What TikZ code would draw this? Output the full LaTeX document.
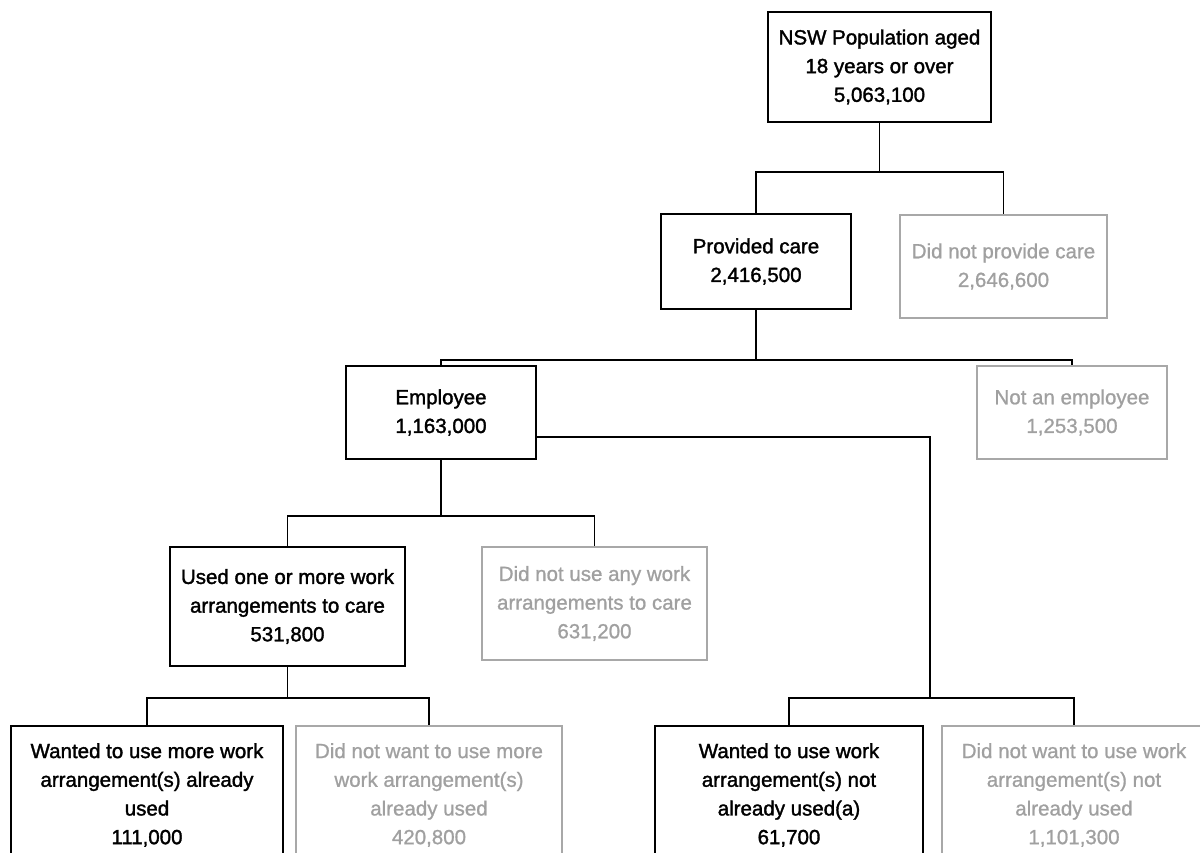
\documentclass[tikz,border=0pt]{standalone}
\usepackage{fontspec}
\setmainfont{Liberation Sans}
\newfontfamily\medfont[FakeBold=1.6]{Liberation Sans}
\newfontfamily\regfont[FakeBold=0.9]{Liberation Sans}
\definecolor{boxgray}{RGB}{168,168,168}
\definecolor{txtgray}{RGB}{160,160,160}
\begin{document}
\begin{tikzpicture}[x=1pt,y=-1pt,
  blackbox/.style={draw=black,line width=2pt,inner sep=0pt,align=center,
    font=\medfont\fontsize{20.5}{28.7}\selectfont,text=black},
  graybox/.style={draw=boxgray,line width=2pt,inner sep=0pt,align=center,
    font=\regfont\fontsize{20.5}{28.7}\selectfont,text=txtgray},
  conn/.style={draw=black,line width=1.6pt}]
\useasboundingbox (0,0) rectangle (1200,853);
\clip (0,0) rectangle (1200,853);
\fill[white] (0,0) rectangle (1200,853);

\node[blackbox,minimum width=223pt,minimum height=110pt] (top) at (879.5,67)
  {NSW Population aged\\18 years or over\\5,063,100};
\node[blackbox,minimum width=190pt,minimum height=95pt] (pc) at (756,261.5)
  {Provided care\\2,416,500};
\node[graybox,minimum width=207pt,minimum height=103pt] (npc) at (1003.5,266.5)
  {Did not provide care\\2,646,600};
\node[blackbox,minimum width=190pt,minimum height=93pt] (emp) at (441,412.5)
  {Employee\\1,163,000};
\node[graybox,minimum width=190pt,minimum height=93pt] (nemp) at (1072,412.5)
  {Not an employee\\1,253,500};
\node[blackbox,minimum width=235pt,minimum height=119pt] (used) at (287.5,606.5)
  {Used one or more work\\arrangements to care\\531,800};
\node[graybox,minimum width=225pt,minimum height=113pt] (nused) at (594.5,603.5)
  {Did not use any work\\arrangements to care\\631,200};
\node[blackbox,minimum width=272pt,minimum height=138pt] (bl) at (147,795)
  {Wanted to use more work\\arrangement(s) already\\used\\111,000};
\node[graybox,minimum width=266pt,minimum height=138pt] (bg) at (429,795)
  {Did not want to use more\\work arrangement(s)\\already used\\420,800};
\node[blackbox,minimum width=268pt,minimum height=138pt] (br) at (789,795)
  {Wanted to use work\\arrangement(s) not\\already used(a)\\61,700};
\node[graybox,minimum width=264pt,minimum height=138pt] (gr) at (1074,795)
  {Did not want to use work\\arrangement(s) not\\already used\\1,101,300};

\coordinate (j1) at (879.5,172);
\coordinate (j2) at (756,360);
\coordinate (j3) at (441,516);
\coordinate (j4) at (287.5,698);
\coordinate (j5) at (930,698);

\draw[conn] (top.south) -- (j1);
\draw[conn] (pc.north) |- (j1) -| (npc.north);
\draw[conn] (pc.south) -- (j2);
\draw[conn] (emp.north) |- (j2) -| (nemp.north);
\draw[conn] (emp.south) -- (j3);
\draw[conn] (used.north) |- (j3) -| (nused.north);
\draw[conn] (used.south) -- (j4);
\draw[conn] (bl.north) |- (j4) -| (bg.north);
\draw[conn] ([yshift=-24.5pt]emp.east) -| (j5);
\draw[conn] (br.north) |- (j5) -| (gr.north);
\end{tikzpicture}
\end{document}
